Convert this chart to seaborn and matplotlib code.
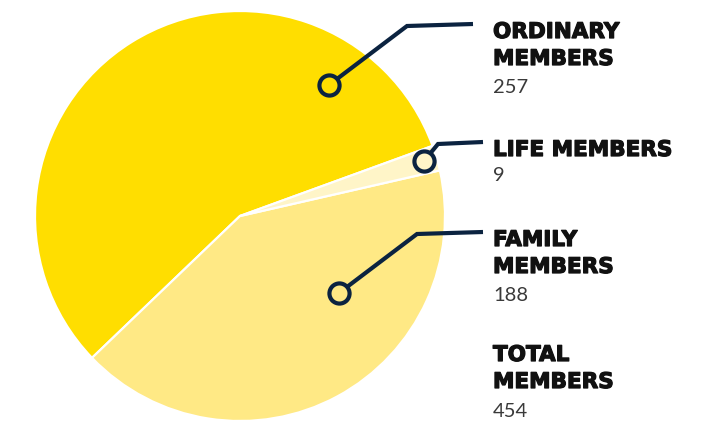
import matplotlib
matplotlib.use("Agg")
import matplotlib.pyplot as plt
import matplotlib.patheffects as pe
import seaborn as sns

# ---- data ----
categories = ["ORDINARY\nMEMBERS", "FAMILY\nMEMBERS", "LIFE MEMBERS"]
values = [257, 188, 9]
total_label = "TOTAL\nMEMBERS"
total_value = sum(values)

sns.set_theme(style="white")
plt.rcParams["font.family"] = ["DejaVu Sans"]

W, H = 705, 421
fig = plt.figure(figsize=(W / 100, H / 100), dpi=100)
ax = fig.add_axes([0, 0, 1, 1])

colors = ["#FFDE00", "#FFE985", "#FFF5C8"]
navy = "#0B2340"

def Y(y):
    return H - y

wedges, _ = ax.pie(values, colors=colors, startangle=20, counterclock=True,
                   center=(240, Y(216)), radius=205, frame=True,
                   wedgeprops=dict(edgecolor="white", linewidth=1.6))
ax.set_xlim(0, W)
ax.set_ylim(0, H)
ax.set_aspect("equal")
ax.axis("off")

# callouts: (circle, elbow, end) in pixel layout
callouts = {
    0: [(329, 85), (407, 26), (473, 24)],
    2: [(424, 161), (438, 144), (483, 142)],
    1: [(339, 293), (417, 234), (483, 232)],
}
for idx, pts in callouts.items():
    xs = [p[0] for p in pts]
    ys = [Y(p[1]) for p in pts]
    ax.plot(xs, ys, color=navy, lw=3.0, solid_capstyle="butt", solid_joinstyle="miter", zorder=5)
    ax.plot([xs[0]], [ys[0]], marker="o", ms=14.5, mfc=colors[idx], mec=navy, mew=3.0, zorder=6)

# text labels (baselines in px)
tx = 493
label_layout = {
    0: (38, 93),
    2: (156, 181),
    1: (246, 301),
}
stroke = [pe.withStroke(linewidth=0.9, foreground="#111111")]
head_kw = dict(fontsize=15.5, fontweight="bold", color="#111111", va="baseline", ha="left",
               family=["DejaVu Sans"], path_effects=stroke)
num_kw = dict(fontsize=14.5, fontweight="normal", color="#3a3a3a", va="baseline", ha="left",
              family=["Lato", "DejaVu Sans"])

for idx, (yb, yn) in label_layout.items():
    lines = categories[idx].split("\n")
    for k, line in enumerate(lines):
        ax.text(tx, Y(yb + 27 * k), line, **head_kw)
    ax.text(tx, Y(yn), str(values[idx]), **num_kw)

for k, line in enumerate(total_label.split("\n")):
    ax.text(tx, Y(361 + 27 * k), line, **head_kw)
ax.text(tx, Y(417), str(total_value), **num_kw)

fig.savefig("out.png", dpi=100)
